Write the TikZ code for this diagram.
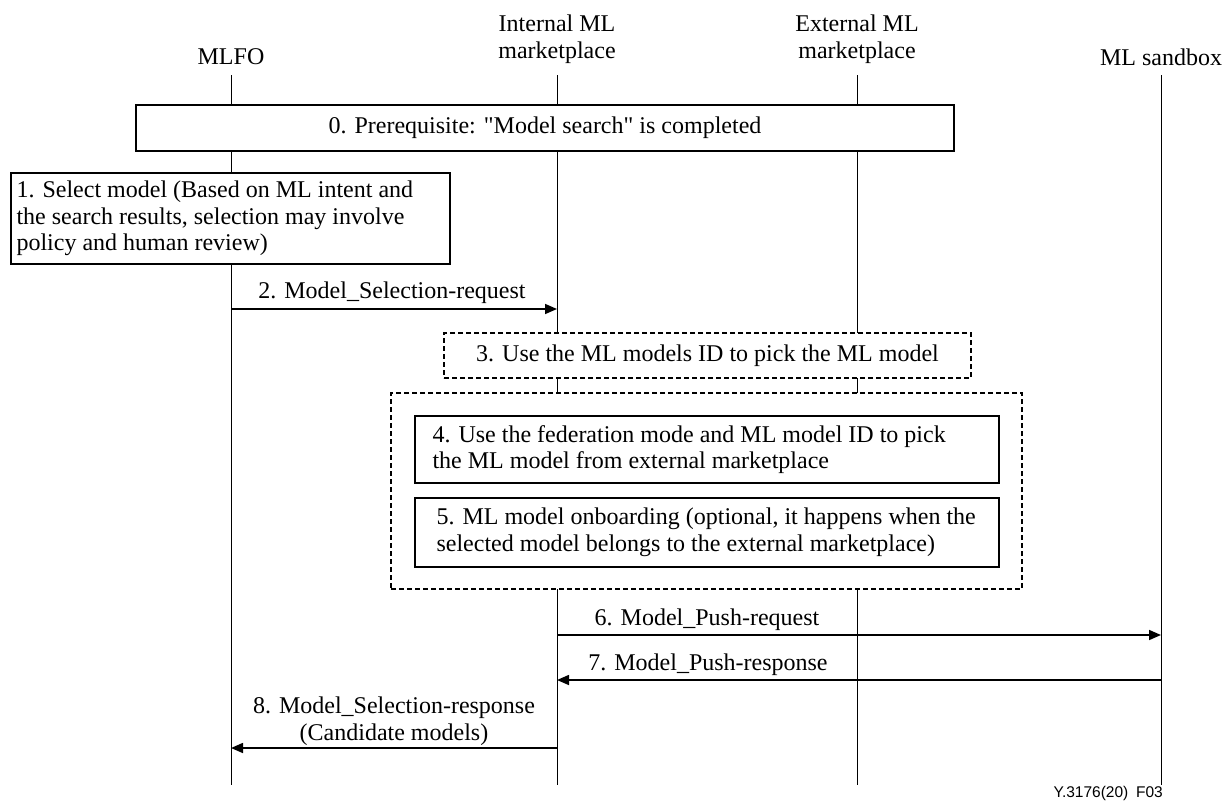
\documentclass[tikz,border=0pt]{standalone}
\usepackage{fontspec}
\setmainfont{Liberation Serif}
\newfontfamily\footfont{Liberation Sans}
\usetikzlibrary{arrows.meta}
\begin{document}
\begin{tikzpicture}[x=1pt,y=-1pt,
  every node/.style={font=\fontsize{24}{26.5}\selectfont, inner sep=0pt},
  lifeline/.style={line width=1pt},
  solidbox/.style={draw, line width=1.3pt, fill=white, rectangle},
  dashbox/.style={draw, line width=1.3pt, fill=white, rectangle, dash pattern=on 5pt off 3pt},
  msg/.style={line width=1.6pt, -{Triangle[length=12pt,width=10pt]}},
  title/.style={align=center},
  lbl/.style={align=center},
  boxtext/.style={align=left, anchor=west}]
\useasboundingbox (0,0) rectangle (1223,803);

% titles
\node[title] (tA) at (231,57) {MLFO};
\node[title] (tB) at (557,39) {Internal ML\\marketplace};
\node[title] (tC) at (857,39) {External ML\\marketplace};
\node[title] (tD) at (1161,57) {ML sandbox};

% lifelines
\coordinate (A1) at (231,75);  \coordinate (A2) at (231,785);
\coordinate (B1) at (557,75);  \coordinate (B2) at (557,785);
\coordinate (C1) at (857,75);  \coordinate (C2) at (857,785);
\coordinate (D1) at (1161,75); \coordinate (D2) at (1161,785);
\draw[lifeline] (A1) -- (A2);
\draw[lifeline] (B1) -- (B2);
\draw[lifeline] (C1) -- (C2);
\draw[lifeline] (D1) -- (D2);

% step 0
\node[solidbox, minimum width=818pt, minimum height=46pt] (b0) at (545,128) {};
\node (t0) at (b0.center) {0. Prerequisite: \textquotedbl Model search\textquotedbl\ is completed};

% step 1
\node[solidbox, minimum width=439pt, minimum height=91pt] (b1) at (230.5,218.5) {};
\node[boxtext] (t1) at ([xshift=6pt]b1.west) {1. Select model (Based on ML intent and\\the search results, selection may involve\\policy and human review)};

% step 2
\coordinate (m2a) at (231,309); \coordinate (m2b) at (557,309);
\draw[msg] (m2a) -- (m2b);
\node[lbl] (l2) at (392,293) {2. Model\_Selection-request};

% step 3
\node[dashbox, minimum width=527pt, minimum height=45pt] (b3) at (707.5,355.5) {};
\node (t3) at (b3.center) {3. Use the ML models ID to pick the ML model};

% outer dashed group
\node[dashbox, minimum width=631pt, minimum height=196pt] (bg) at (706.5,491) {};

% step 4
\node[solidbox, minimum width=584pt, minimum height=67pt] (b4) at (707,449.5) {};
\node[boxtext] (t4) at ([xshift=18pt]b4.west) {4. Use the federation mode and ML model ID to pick\\the ML model from external marketplace};

% step 5
\node[solidbox, minimum width=584pt, minimum height=69pt] (b5) at (707,532.5) {};
\node[boxtext] (t5) at ([xshift=22pt]b5.west) {5. ML model onboarding (optional, it happens when the\\selected model belongs to the external marketplace)};

% step 6
\coordinate (m6a) at (557,635); \coordinate (m6b) at (1161,635);
\draw[msg] (m6a) -- (m6b);
\node[lbl] (l6) at (707,620) {6. Model\_Push-request};

% step 7
\coordinate (m7a) at (1161,680); \coordinate (m7b) at (557,680);
\draw[msg] (m7a) -- (m7b);
\node[lbl] (l7) at (708,665) {7. Model\_Push-response};

% step 8
\coordinate (m8a) at (557,748); \coordinate (m8b) at (231,748);
\draw[msg] (m8a) -- (m8b);
\node[lbl] (l8) at (394,721) {8. Model\_Selection-response\\(Candidate models)};

% footer
\node[anchor=east, font=\footfont\fontsize{15.5}{15.5}\selectfont] (foot) at (1163,793) {Y.3176(20)\enspace F03};
\end{tikzpicture}
\end{document}
